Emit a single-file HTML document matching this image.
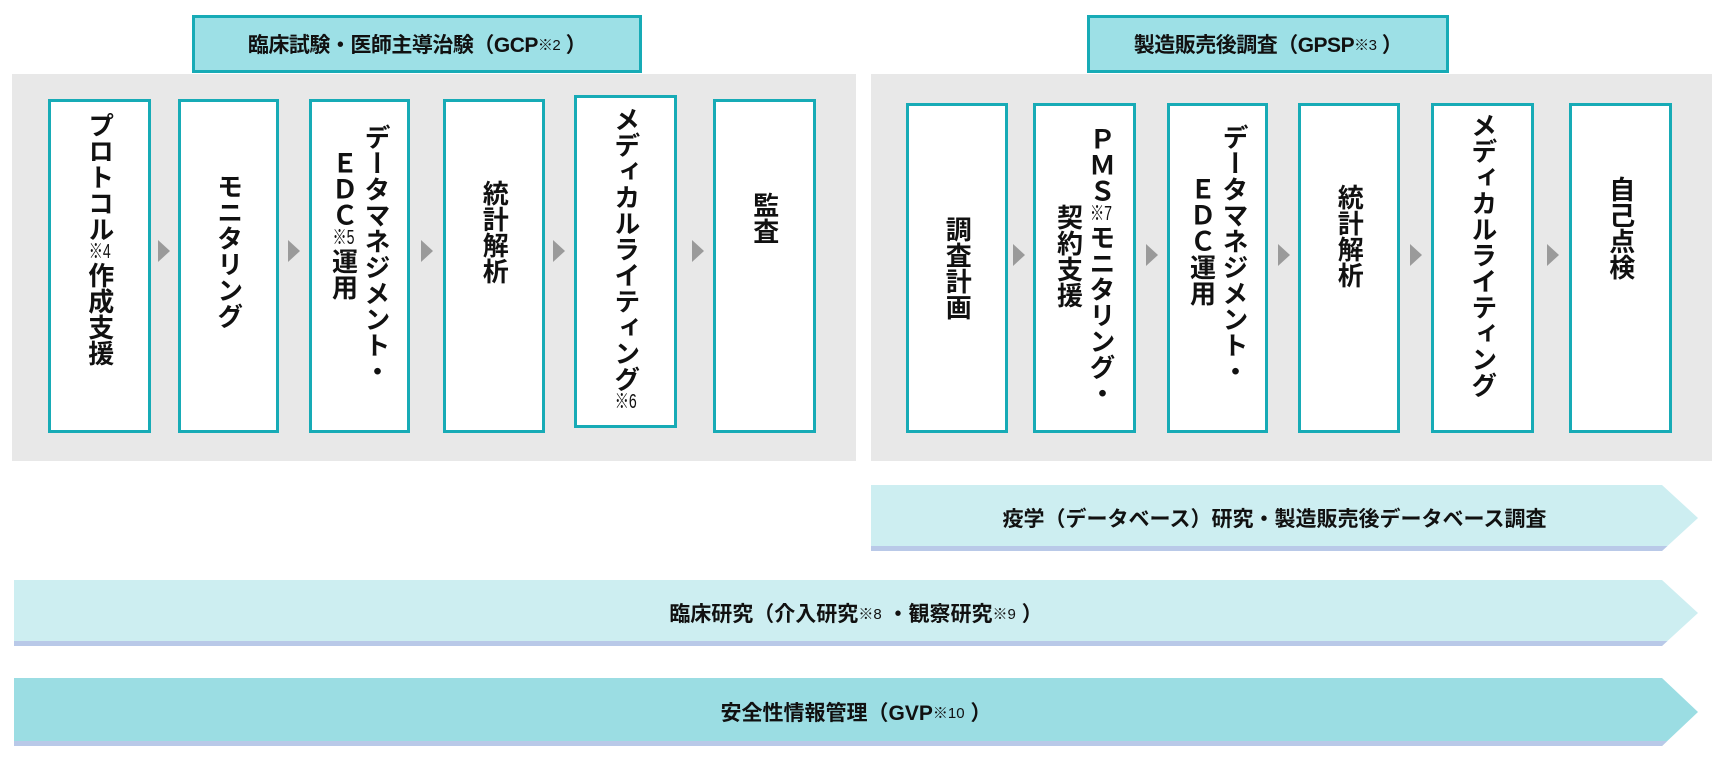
<!DOCTYPE html>
<html><head><meta charset="utf-8"><style>
*{margin:0;padding:0;box-sizing:border-box}
body{width:1720px;height:760px;background:#fff;position:relative;overflow:hidden;font-family:"Liberation Sans","Noto Sans CJK JP",sans-serif;font-weight:bold;color:#111}
.panel{position:absolute;background:#e8e8e8}
.title{position:absolute;background:#9de0e6;border:3px solid #17abb6;display:flex;align-items:center;justify-content:center;font-size:21px;letter-spacing:-0.5px}
.title sup{font-size:15px;font-weight:normal;vertical-align:6px}
.box{position:absolute;background:#fff;border:3px solid #17abb6;display:flex;justify-content:center;align-items:center}
.box.top{align-items:flex-start}
.v{display:inline-block;writing-mode:vertical-rl;text-orientation:upright;font-size:26px;line-height:1.25;white-space:nowrap}
.v small{font-size:20px;font-weight:normal;text-combine-upright:all}
.tri{position:absolute;width:0;height:0;border-top:11px solid transparent;border-bottom:11px solid transparent;border-left:12px solid #9a9a9a}
.bar{position:absolute;clip-path:polygon(0 0,calc(100% - 36px) 0,100% 50%,calc(100% - 36px) 100%,0 100%);display:flex;align-items:center;justify-content:center;font-size:21px}
.bar::after{content:"";position:absolute;left:0;right:0;bottom:0;height:5px;background:#b9c9e8}
.bar sup{font-size:15px;font-weight:normal;vertical-align:4px}
</style></head><body>
<div class="panel" style="left:12px;top:74px;width:844px;height:387px"></div>
<div class="panel" style="left:871px;top:74px;width:841px;height:387px"></div>
<div class="title" style="left:192px;top:15px;width:450px;height:58px">臨床試験・医師主導治験（GCP<sup>※2</sup>&nbsp;）</div>
<div class="title" style="left:1087px;top:15px;width:362px;height:58px">製造販売後調査（GPSP<sup>※3</sup>&nbsp;）</div>

<div class="box top" style="left:48px;top:99px;width:103px;height:334px"><div class="v" style="margin-top:10px">プロトコル<small>※4</small>作成支援</div></div>
<div class="box" style="left:178px;top:99px;width:101px;height:334px"><div class="v" style="margin-top:-30px">モニタリング</div></div>
<div class="box top" style="left:309px;top:99px;width:101px;height:334px"><div class="v" style="margin-top:22px">データマネジメント・<br>&#x3000;ＥＤＣ<small>※5</small>運用</div></div>
<div class="box top" style="left:443px;top:99px;width:102px;height:334px"><div class="v" style="margin-top:78px">統計解析</div></div>
<div class="box top" style="left:574px;top:95px;width:103px;height:333px"><div class="v" style="margin-top:8px">メディカルライティング<small>※6</small></div></div>
<div class="box top" style="left:713px;top:99px;width:103px;height:334px"><div class="v" style="margin-top:90px">監査</div></div>

<div class="tri" style="left:158px;top:240px"></div>
<div class="tri" style="left:288px;top:240px"></div>
<div class="tri" style="left:421px;top:240px"></div>
<div class="tri" style="left:553px;top:240px"></div>
<div class="tri" style="left:692px;top:240px"></div>

<div class="box" style="left:906px;top:103px;width:102px;height:330px"><div class="v">調査計画</div></div>
<div class="box top" style="left:1033px;top:103px;width:103px;height:330px"><div class="v" style="margin-top:20px">ＰＭＳ<small>※7</small>モニタリング・<br>&#x3000;&#x3000;&#x3000;契約支援</div></div>
<div class="box top" style="left:1167px;top:103px;width:101px;height:330px"><div class="v" style="margin-top:18px">データマネジメント・<br>&#x3000;&#x3000;ＥＤＣ運用</div></div>
<div class="box top" style="left:1298px;top:103px;width:102px;height:330px"><div class="v" style="margin-top:78px">統計解析</div></div>
<div class="box top" style="left:1431px;top:103px;width:103px;height:330px"><div class="v" style="margin-top:6px">メディカルライティング</div></div>
<div class="box top" style="left:1569px;top:103px;width:103px;height:330px"><div class="v" style="margin-top:70px">自己点検</div></div>

<div class="tri" style="left:1013px;top:244px"></div>
<div class="tri" style="left:1146px;top:244px"></div>
<div class="tri" style="left:1278px;top:244px"></div>
<div class="tri" style="left:1410px;top:244px"></div>
<div class="tri" style="left:1547px;top:244px"></div>

<div class="bar" style="left:871px;top:485px;width:827px;height:66px;background:#cdeef1;padding-right:20px">疫学（データベース）研究・製造販売後データベース調査</div>
<div class="bar" style="left:14px;top:580px;width:1684px;height:66px;background:#cdeef1">臨床研究（介入研究<sup>※8</sup>&nbsp;・観察研究<sup>※9</sup>&nbsp;）</div>
<div class="bar" style="left:14px;top:678px;width:1684px;height:68px;background:#9bdde3">安全性情報管理（GVP<sup>※10</sup>&nbsp;）</div>
</body></html>
